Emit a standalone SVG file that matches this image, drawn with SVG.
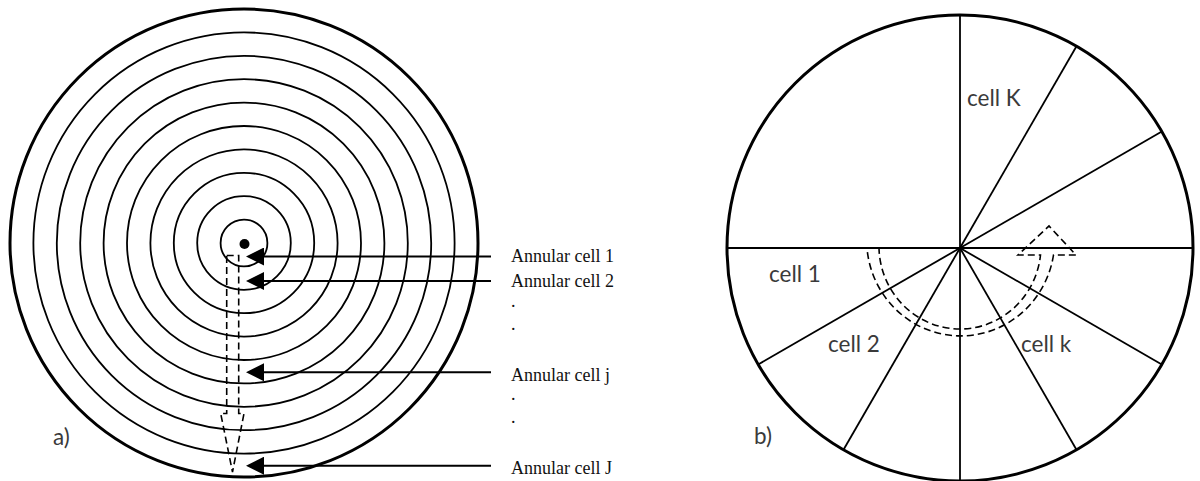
<svg xmlns="http://www.w3.org/2000/svg" width="1200" height="481" viewBox="0 0 1200 481">
<style>
.ring{fill:none;stroke:#000;stroke-width:1.8}
.outer{fill:none;stroke:#000;stroke-width:3}
.spoke{stroke:#000;stroke-width:1.8}
.conn{stroke:#000;stroke-width:2;fill:none}
.dash{fill:none;stroke:#000;stroke-width:1.6;stroke-dasharray:7 4}
.ann{font-family:"Liberation Serif","Times New Roman",serif;font-size:18px;fill:#111}
.lbl{font-family:Lato,"Liberation Sans",sans-serif;font-size:22.5px;fill:#3a3a3a}
</style>
<defs>
<marker id="ah" viewBox="0 0 18 18" markerWidth="18" markerHeight="18" markerUnits="userSpaceOnUse" refX="0" refY="9" orient="auto">
<path d="M0,0 L18,9 L0,18 Z" fill="#000"/>
</marker>
</defs>
<rect width="1200" height="481" fill="#fff"/>
<g id="annular-disc">
<circle class="ring" cx="244" cy="243" r="23.4"/>
<circle class="ring" cx="244" cy="243" r="46.8"/>
<circle class="ring" cx="244" cy="243" r="70.2"/>
<circle class="ring" cx="244" cy="243" r="93.6"/>
<circle class="ring" cx="244" cy="243" r="117"/>
<circle class="ring" cx="244" cy="243" r="140.4"/>
<circle class="ring" cx="244" cy="243" r="163.8"/>
<circle class="ring" cx="244" cy="243" r="187.2"/>
<circle class="ring" cx="244" cy="243" r="210.6"/>
<circle class="outer" cx="244" cy="243" r="234"/>
<circle cx="244.5" cy="244" r="5" fill="#000"/>
<path class="dash" d="M226.7,255.5 L238.7,255.5 L238.7,413.5 L244,413.5 L232.5,472 L220.7,413.5 L226.7,413.5 Z"/>
<text class="lbl" x="53" y="445">a)</text>
</g>
<g id="sector-disc">
<circle class="outer" cx="960" cy="248" r="233"/>
<line class="spoke" x1="960" y1="15" x2="960" y2="481"/>
<line class="spoke" x1="727" y1="248" x2="1193" y2="248"/>
<line class="spoke" x1="960" y1="248" x2="1076.5" y2="46.2"/>
<line class="spoke" x1="960" y1="248" x2="1161.8" y2="131.5"/>
<line class="spoke" x1="960" y1="248" x2="1161.8" y2="364.5"/>
<line class="spoke" x1="960" y1="248" x2="1076.5" y2="449.8"/>
<line class="spoke" x1="960" y1="248" x2="758.2" y2="364.5"/>
<line class="spoke" x1="960" y1="248" x2="843.5" y2="449.8"/>
<path class="dash" d="M867,248 L879,248 A81,83 0 0 0 1040.5,255 L1018,255 L1049,226 L1076,255 L1053.5,255 A94,96 0 0 1 867,248 Z"/>
<text class="lbl" x="967" y="106">cell K</text>
<text class="lbl" x="769" y="282">cell 1</text>
<text class="lbl" x="828" y="352">cell 2</text>
<text class="lbl" x="1021" y="352">cell k</text>
<text class="lbl" x="754" y="444">b)</text>
</g>
<g id="labels">
<text class="ann" x="511" y="262">Annular cell 1</text>
<text class="ann" x="511" y="287">Annular cell 2</text>
<text class="ann" x="511" y="307">.</text>
<text class="ann" x="511" y="330">.</text>
<text class="ann" x="511" y="381">Annular cell j</text>
<text class="ann" x="511" y="400">.</text>
<text class="ann" x="511" y="423">.</text>
<text class="ann" x="511" y="474">Annular cell J</text>
</g>
<g id="connectors">
<line class="conn" x1="491" y1="256.5" x2="264" y2="256.5" marker-end="url(#ah)"/>
<line class="conn" x1="491" y1="281" x2="264" y2="281" marker-end="url(#ah)"/>
<line class="conn" x1="491" y1="372.3" x2="264" y2="372.3" marker-end="url(#ah)"/>
<line class="conn" x1="491" y1="465.7" x2="264" y2="465.7" marker-end="url(#ah)"/>
</g>
</svg>
